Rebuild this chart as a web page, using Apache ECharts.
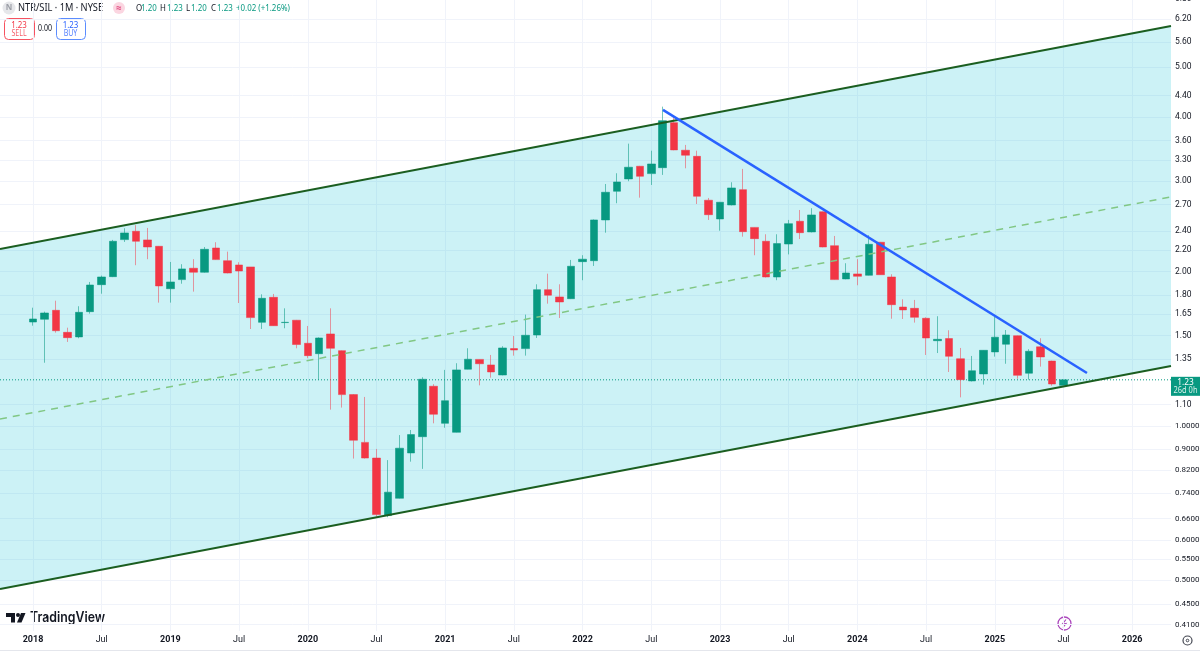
<!DOCTYPE html>
<html>
<head>
<meta charset="utf-8">
<style>html,body{margin:0;padding:0;background:#fff}#c{width:1200px;height:653px}</style>
<script src="https://cdn.jsdelivr.net/npm/echarts@6/dist/echarts.min.js"></script>
</head>
<body>
<div id="c"></div>
<script>
// NTR/SIL monthly candles, January 2018 to July 2025
const opens = [1.594,1.614,1.680,1.522,1.491,1.670,1.885,1.954,2.307,2.395,2.304,2.239,
  1.851,1.928,2.029,1.993,2.222,2.099,2.059,2.041,1.592,1.781,1.590,1.607,
  1.449,1.383,1.511,1.402,1.151,0.929,0.866,0.669,0.723,0.886,0.953,1.195,
  1.012,0.972,1.290,1.348,1.315,1.257,1.415,1.415,1.504,1.843,1.784,1.770,
  2.090,2.099,2.520,2.866,3.029,3.206,3.102,3.186,3.899,3.445,3.352,2.753,
  2.531,2.695,2.887,2.437,2.290,1.951,2.262,2.505,2.388,2.614,2.245,1.934,
  1.978,1.966,2.280,1.951,1.705,1.695,1.621,1.466,1.480,1.352,1.224,1.263,
  1.394,1.443,1.499,1.267,1.426,1.338,1.20];
const closes = [1.616,1.660,1.533,1.486,1.665,1.882,1.951,2.290,2.377,2.290,2.232,1.874,
  1.908,2.023,1.993,2.209,2.109,1.986,2.004,1.626,1.773,1.568,1.592,1.441,
  1.371,1.484,1.417,1.151,0.938,0.866,0.672,0.743,0.905,0.962,1.233,1.054,
  1.120,1.286,1.349,1.322,1.274,1.419,1.406,1.502,1.843,1.798,1.744,2.047,
  2.113,2.520,2.853,2.988,3.192,3.065,3.239,3.934,3.450,3.369,2.802,2.580,
  2.728,2.909,2.391,2.317,1.951,2.266,2.478,2.380,2.577,2.232,1.928,1.986,
  1.957,2.259,1.971,1.723,1.683,1.628,1.484,1.475,1.367,1.231,1.281,1.404,
  1.489,1.504,1.255,1.398,1.363,1.207,1.23];
const lows = [1.568,1.328,1.520,1.458,1.482,1.655,1.810,1.950,2.283,2.057,2.113,1.739,
  1.739,1.893,1.827,1.989,2.106,1.983,1.736,1.545,1.545,1.566,1.550,1.417,
  1.355,1.229,1.076,1.086,0.864,0.864,0.666,0.664,0.722,0.852,0.825,1.012,
  0.992,0.971,1.289,1.200,1.242,1.255,1.371,1.371,1.484,1.731,1.623,1.767,
  1.923,2.050,2.380,2.716,2.998,2.785,2.948,3.084,3.445,3.177,2.707,2.520,
  2.401,2.690,2.338,2.151,1.947,1.923,2.159,2.313,2.383,2.229,1.926,1.931,
  1.880,1.964,1.969,1.618,1.616,1.590,1.375,1.387,1.274,1.137,1.221,1.204,
  1.365,1.322,1.236,1.231,1.305,1.198,1.20];
const highs = [1.700,1.670,1.754,1.554,1.711,1.908,1.963,2.304,2.428,2.461,2.431,2.242,
  2.087,2.066,2.113,2.232,2.280,2.186,2.084,2.041,1.805,1.808,1.695,1.609,
  1.566,1.488,1.695,1.404,1.154,1.139,0.902,0.858,0.960,0.982,1.244,1.206,
  1.286,1.325,1.417,1.349,1.375,1.430,1.497,1.648,1.888,1.980,1.888,2.106,
  2.151,2.526,2.961,3.107,3.548,3.211,3.438,4.189,3.995,3.528,3.438,2.781,
  2.732,2.984,3.168,2.439,2.363,2.363,2.520,2.635,2.656,2.618,2.345,2.075,
  2.113,2.353,2.283,1.975,1.765,1.760,1.628,1.636,1.536,1.419,1.369,1.406,
  1.633,1.538,1.501,1.411,1.482,1.340,1.23];

// Price scale ticks and time scale ticks (month number since January 2018)
const priceTicks = [6.8,6.2,5.6,5.0,4.4,4.0,3.6,3.3,3.0,2.7,2.4,2.2,2.0,1.8,1.65,1.5,1.35,1.1,
  1.0,0.9,0.82,0.74,0.66,0.6,0.55,0.5,0.45,0.41];
const timeTicks = [0,6,12,18,24,30,36,42,48,54,60,66,72,78,84,90,96];
const timeLabels = ['2018','Jul','2019','Jul','2020','Jul','2021','Jul','2022','Jul','2023','Jul','2024','Jul','2025','Jul','2026'];

// Visible range of both scales
const monthMin = -2.882, monthMax = 99.389;
const priceMin = 0.3986, priceMax = 6.82;

// Hand-drawn channel and trend line, as [month, price]
const channelUpper = [[monthMin,2.212],[monthMax,6.017]];
const channelMiddle = [[monthMin,1.032],[monthMax,2.794]];
const channelLower = [[monthMin,0.4813],[monthMax,1.309]];
const trendLine = [[55.02,4.128],[92.05,1.268]];

const lastPrice = 1.23;
const UP = '#089981', DOWN = '#f23645', TEXT = '#131722';
const FONT = '"Noto Sans", Roboto, sans-serif';
const AXIS_FONT = 'Roboto, "Noto Sans", sans-serif';
const NARROW = 0.88;

const chart = echarts.init(document.getElementById('c'), null, {renderer:'canvas'});

const lineSeries = (data, color, width, z, dash) => ({
  type:'line', data, showSymbol:false, symbol:'none', silent:true, z, animation:false,
  lineStyle:{color, width, type: dash || 'solid'}
});

const header = [
  {type:'circle', shape:{cx:9,cy:8,r:6.5}, style:{fill:'#e6e7ea'}},
  {type:'text', x:9, y:8, style:{text:'N', fill:'#9a9da5', font:'bold 8px '+FONT, align:'center', verticalAlign:'middle'}},
  {type:'text', x:18, y:8, scaleX:NARROW, style:{text:'NTR/SIL · 1M · NYSE', fill:TEXT, font:'10.5px '+FONT, verticalAlign:'middle'}},
  {type:'circle', shape:{cx:119,cy:8,r:6}, style:{fill:'#fbd6e1'}},
  {type:'text', x:119, y:8, style:{text:'≈', fill:'#e0447c', font:'bold 10px '+FONT, align:'center', verticalAlign:'middle'}}
];
[[136,'O',TEXT],[141,'1.20',UP],[160,'H',TEXT],[167,'1.23',UP],[186,'L',TEXT],[191,'1.20',UP],
 [211,'C',TEXT],[217,'1.23',UP],[236,'+0.02 (+1.26%)',UP]].forEach(([x,t,c]) => {
  header.push({type:'text', x, y:8, scaleX:NARROW, style:{text:t, fill:c, font:'9px '+FONT, verticalAlign:'middle'}});
});
[[4,30,'SELL',DOWN,'#f7525f'],[56,29,'BUY','#2962ff','#5b8cff']].forEach(([x,w,t,c,b]) => {
  header.push({type:'rect', shape:{x:x+0.5,y:18.5,width:w,height:21,r:4}, style:{fill:'#fff',stroke:b,lineWidth:1}});
  header.push({type:'text', x:x+w/2, y:25, scaleX:NARROW, style:{text:'1.23', fill:c, font:'9px '+FONT, align:'center', verticalAlign:'middle'}});
  header.push({type:'text', x:x+w/2, y:34, scaleX:NARROW, style:{text:t, fill:c, opacity:0.8, font:'8px '+FONT, align:'center', verticalAlign:'middle'}});
});
header.push({type:'text', x:45, y:28.5, scaleX:NARROW, style:{text:'0.00', fill:TEXT, font:'8px '+FONT, align:'center', verticalAlign:'middle'}});

const watermark = [
  {type:'polygon', shape:{points:[[6,613],[15,613],[15,622.5],[11,622.5],[11,617],[6,617]]}, style:{fill:'#131722'}},
  {type:'circle', shape:{cx:18,cy:615,r:2}, style:{fill:'#131722'}},
  {type:'polygon', shape:{points:[[21,613],[25.5,613],[21.5,622.5],[17,622.5]]}, style:{fill:'#131722'}},
  {type:'text', x:30, y:618, scaleX:0.88, style:{text:'TradingView', fill:'#131722', font:'600 14px Inter, Lato, sans-serif', verticalAlign:'middle'}}
];

const furniture = [
  {type:'line', shape:{x1:0,y1:650.5,x2:1200,y2:650.5}, style:{stroke:'#e4e6ec',lineWidth:1}},
  {type:'circle', shape:{cx:1064.5,cy:623.5,r:6.5}, style:{fill:'#fff',stroke:'#ab47bc',lineWidth:1.3}},
  {type:'polyline', shape:{points:[[1066,619.5],[1062.5,624],[1066,623.5],[1063,627.5]]}, style:{fill:'none',stroke:'#ab47bc',lineWidth:1.2}},
  {type:'circle', shape:{cx:1187.5,cy:640.5,r:4.5}, style:{fill:'none',stroke:'#434651',lineWidth:1.2}},
  {type:'circle', shape:{cx:1187.5,cy:640.5,r:1.3}, style:{fill:'none',stroke:'#434651',lineWidth:1}}
];

chart.setOption({
  animation:false,
  backgroundColor:'#fff',
  textStyle:{fontFamily:AXIS_FONT},
  grid:{left:0, top:-2, width:1171, height:633, containLabel:false, outerBoundsMode:'none'},
  xAxis:{
    type:'value', min:monthMin, max:monthMax,
    axisLine:{show:false},
    axisTick:{show:false, customValues:timeTicks},
    splitLine:{show:true, lineStyle:{color:'#f0f3fa', width:1}},
    axisLabel:{
      customValues:timeTicks, margin:4, color:TEXT, fontSize:9, fontFamily:AXIS_FONT, hideOverlap:false,
      formatter: v => {
        const t = timeLabels[timeTicks.indexOf(Math.round(v))] || '';
        return t === 'Jul' ? t : '{y|' + t + '}';
      },
      rich:{y:{fontWeight:'bold', fontSize:9, fontFamily:AXIS_FONT, color:TEXT}}
    }
  },
  yAxis:{
    type:'log', logBase:10, min:priceMin, max:priceMax, position:'right',
    axisLine:{show:false},
    axisTick:{show:false, customValues:priceTicks},
    splitLine:{show:true, lineStyle:{color:'#f0f3fa', width:1}},
    axisLabel:{
      customValues:priceTicks, margin:4, color:TEXT, fontSize:8.5, fontFamily:AXIS_FONT, hideOverlap:false,
      showMinLabel:true, showMaxLabel:true,
      formatter: v => v <= 1 ? '{s|' + (+v).toFixed(4) + '}' : (+v).toFixed(2),
      rich:{s:{fontSize:8, fontFamily:AXIS_FONT, color:TEXT}}
    }
  },
  series:[
    {
      type:'custom', z:1, silent:true, animation:false, coordinateSystem:'cartesian2d',
      data:[[monthMin, priceMin]],
      renderItem:(params, api) => ({
        type:'polygon',
        shape:{points:[channelUpper[0],channelUpper[1],channelLower[1],channelLower[0]].map(p => api.coord(p))},
        style:{fill:'rgba(0,188,212,0.2)'}
      })
    },
    lineSeries([[monthMin,lastPrice],[monthMax,lastPrice]], UP, 1, 2, [1,2]),
    {
      type:'candlestick', z:3, barWidth:8, animation:false, silent:true,
      encode:{x:0, y:[1,2,3,4]},
      data: opens.map((o,i) => [i, o, closes[i], lows[i], highs[i]]),
      itemStyle:{color:UP, color0:DOWN, borderColor:'rgba(8,153,129,0.55)', borderColor0:'rgba(242,54,69,0.5)', borderWidth:1}
    },
    lineSeries(channelUpper, '#1b5e20', 2, 4),
    lineSeries(channelMiddle, '#81c784', 1.5, 4, [7,6]),
    lineSeries(channelLower, '#1b5e20', 2, 4),
    lineSeries(trendLine, '#2962ff', 2.5, 5),
    {
      // current price tag on the price scale
      type:'custom', z:6, silent:true, animation:false, clip:false, coordinateSystem:'cartesian2d',
      data:[[monthMax, lastPrice]],
      renderItem:(params, api) => {
        const p = api.coord([monthMax, lastPrice]);
        return {type:'group', children:[
          {type:'rect', shape:{x:p[0],y:p[1]-3,width:29,height:19}, style:{fill:UP}},
          {type:'text', x:p[0]+14.5, y:p[1]+2, scaleX:NARROW, style:{text:'1.23', fill:'#fff', font:'9.5px '+FONT, align:'center', verticalAlign:'middle'}},
          {type:'text', x:p[0]+14.5, y:p[1]+11, scaleX:NARROW, style:{text:'26d 0h', fill:'#d5efe9', font:'8.5px '+FONT, align:'center', verticalAlign:'middle'}}
        ]};
      }
    }
  ],
  graphic:{elements:[...header, ...watermark, ...furniture]}
});
</script>
</body>
</html>
